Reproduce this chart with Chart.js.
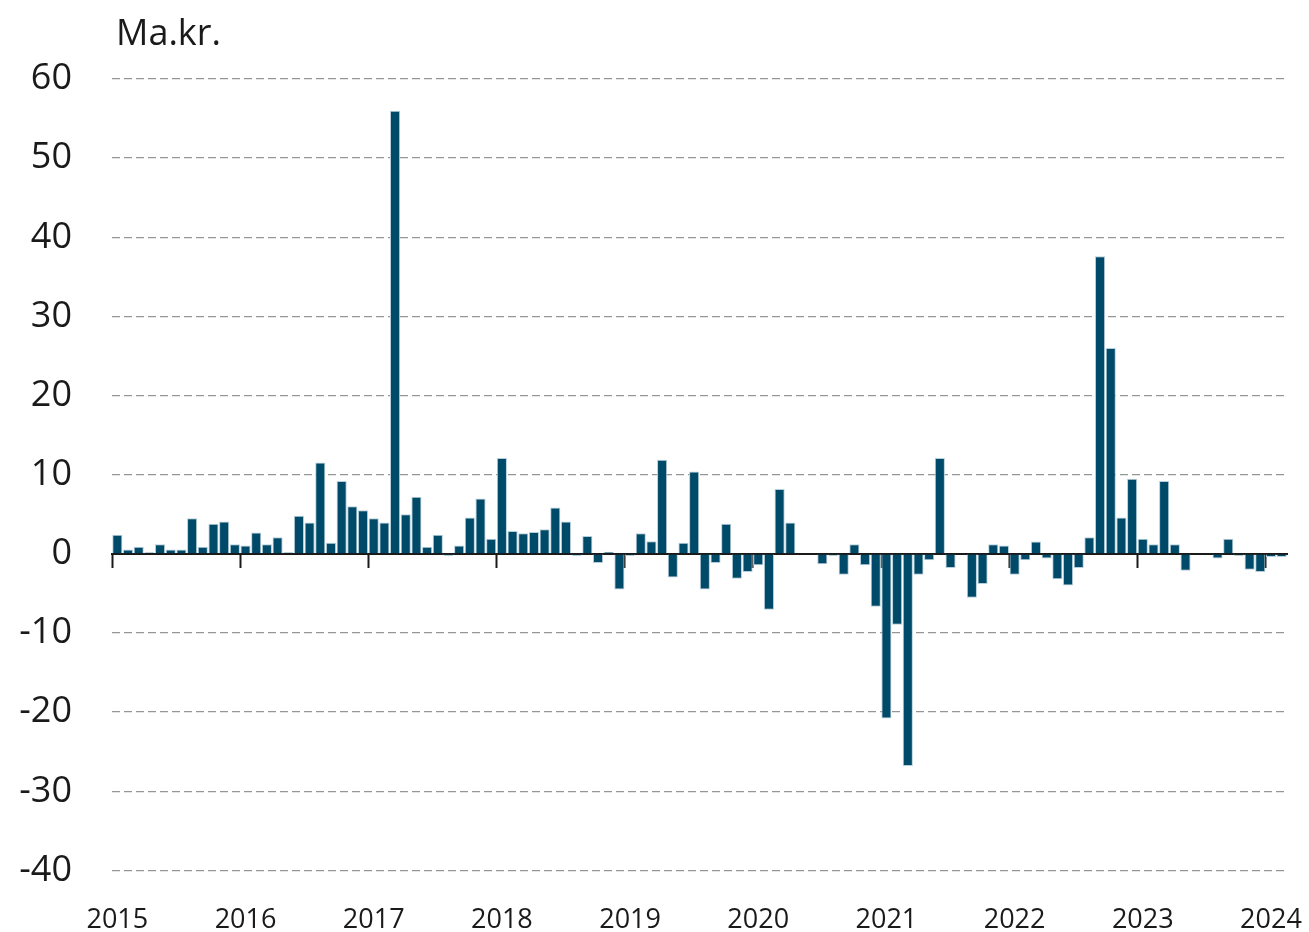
<!DOCTYPE html>
<html>
<head>
<meta charset="utf-8">
<script src="https://cdn.jsdelivr.net/npm/chart.js@4.4.1/dist/chart.umd.min.js"></script>
<style>
  html, body { margin: 0; padding: 0; background: #fff; }
</style>
</head>
<body>
<canvas id="myBarChart" width="1309" height="932"></canvas>
<script>
// years shown on the axis
const years = ['2015', '2016', '2017', '2018', '2019', '2020', '2021', '2022', '2023', '2024'];

// monthly values (Ma.kr.), one list per year
const v2015 = [2.4, 0.55, 0.9, 0.2, 1.2, 0.55, 0.55, 4.5, 0.9, 3.8, 4.1, 1.2];
const v2016 = [1.05, 2.7, 1.2, 2.1, 0.2, 4.8, 3.95, 11.55, 1.4, 9.2, 6.0, 5.5];
const v2017 = [4.5, 3.95, 56.0, 5.0, 7.2, 0.9, 2.4, -0.25, 1.05, 4.6, 7.0, 1.9];
const v2018 = [12.1, 2.9, 2.6, 2.75, 3.1, 5.85, 4.1, -0.25, 2.25, -1.15, 0.25, -4.5];
const v2019 = [-0.25, 2.6, 1.6, 11.9, -3.0, 1.4, 10.4, -4.5, -1.15, 3.8, -3.15, -2.3];
const v2020 = [-1.45, -7.05, 8.2, 3.95, 0, 0, -1.3, -0.25, -2.65, 1.2, -1.45, -6.7];
const v2021 = [-20.8, -8.95, -26.8, -2.65, -0.8, 12.1, -1.8, 0, -5.55, -3.8, 1.2, 1.05];
const v2022 = [-2.65, -0.8, 1.55, -0.6, -3.2, -4.0, -1.8, 2.1, 37.6, 26.0, 4.6, 9.5];
const v2023 = [1.9, 1.2, 9.2, 1.2, -2.15, 0, 0, -0.6, 1.9, -0.25, -2.0, -2.3];
const v2024 = [-0.4, -0.4];

const yTicks = [-40, -30, -20, -10, 0, 10, 20, 30, 40, 50, 60];

const values = [].concat(v2015, v2016, v2017, v2018, v2019, v2020, v2021, v2022, v2023, v2024);

// month labels like 2015-01
const monthLabels = [];
for (let i = 0; i < values.length; i++) {
  const y = years[Math.floor(i / 12)];
  const m = (i % 12) + 1;
  monthLabels.push(y + '-' + (m < 10 ? '0' + m : m));
}

const fontFamily = '"Open Sans", "Noto Sans", sans-serif';
const textColor = '#1a1a1a';

// unit text above the plot
const unitLabel = {
  id: 'unitLabel',
  afterDraw(chart) {
    const c = chart.ctx;
    c.save();
    c.font = '36px ' + fontFamily;
    c.fillStyle = textColor;
    c.textAlign = 'left';
    c.textBaseline = 'alphabetic';
    c.fillText('Ma.kr.', chart.chartArea.left + 4, 45);
    c.restore();
  }
};

var ctx = document.getElementById('myBarChart').getContext('2d');
var myBarChart = new Chart(ctx, {
  type: 'bar',
  data: {
    labels: monthLabels,
    datasets: [{
      data: values,
      xAxisID: 'x',
      backgroundColor: '#004a69',
      borderColor: '#b7cfda',
      borderWidth: 1,
      barPercentage: 0.95,
      categoryPercentage: 1.0
    }]
  },
  plugins: [unitLabel],
  options: {
    responsive: false,
    animation: false,
    layout: { padding: { top: 79, right: 22, bottom: 0, left: 0 } },
    plugins: {
      legend: { display: false },
      tooltip: { enabled: false }
    },
    scales: {
      x: {
        type: 'category',
        offset: true,
        grid: { display: false, drawTicks: false },
        border: { display: false },
        ticks: {
          autoSkip: false,
          maxRotation: 0,
          minRotation: 0,
          padding: 34,
          color: textColor,
          font: { family: fontFamily, size: 27 },
          callback: function(val, i) {
            return i % 12 === 0 ? monthLabels[i].slice(0, 4) : '';
          }
        },
        afterFit: function(scale) {
          scale.height = 60;
          scale.paddingLeft = 0;
          scale.paddingRight = 0;
        }
      },
      // zero line with year tick marks
      x2: {
        type: 'category',
        labels: monthLabels,
        offset: true,
        position: { y: 0 },
        z: 1,
        ticks: { display: false, autoSkip: false },
        grid: {
          offset: true,
          drawOnChartArea: false,
          drawTicks: true,
          tickLength: 13,
          tickWidth: 2,
          tickColor: function(c) { return c.index % 12 === 0 ? textColor : 'rgba(0,0,0,0)'; }
        },
        border: { display: true, color: textColor, width: 2 },
        afterFit: function(scale) {
          scale.paddingLeft = 0;
          scale.paddingRight = 0;
        }
      },
      y: {
        min: yTicks[0],
        max: yTicks[yTicks.length - 1],
        afterBuildTicks: function(scale) {
          scale.ticks = yTicks.map(function(v) { return { value: v }; });
        },
        ticks: {
          padding: 40,
          color: textColor,
          font: { family: fontFamily, size: 36 }
        },
        grid: {
          drawTicks: false,
          lineWidth: 1.3,
          color: function(c) { return c.tick && c.tick.value === 0 ? 'rgba(0,0,0,0)' : '#969696'; }
        },
        border: { display: false, dash: [8, 4] },
        afterFit: function(scale) { scale.width = 112; }
      }
    }
  }
});
</script>
</body>
</html>
